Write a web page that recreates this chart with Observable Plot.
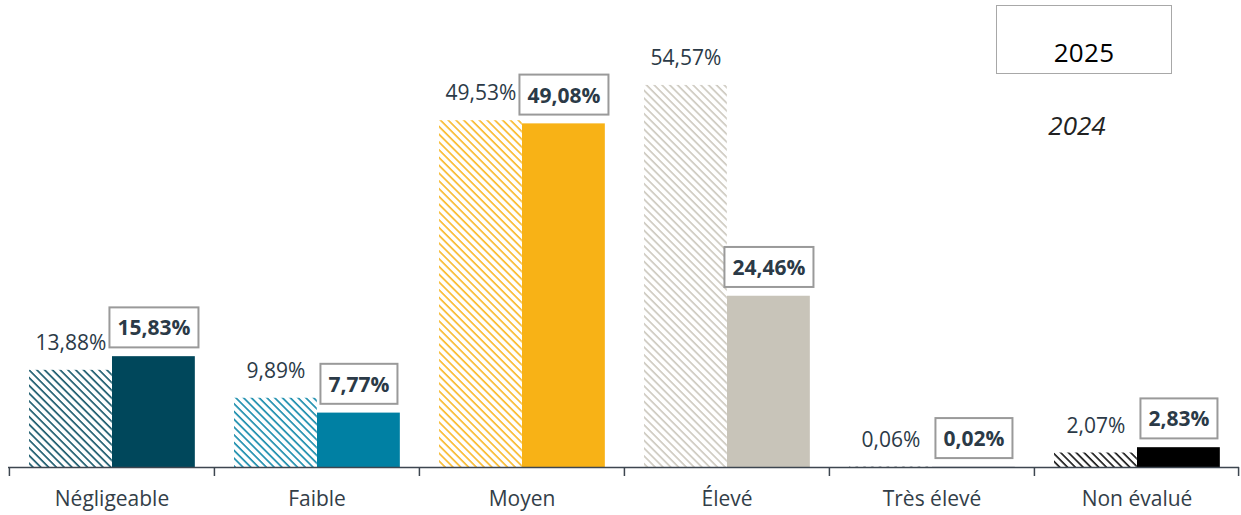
<!DOCTYPE html>
<html>
<head>
<meta charset="utf-8">
<script src="https://cdn.jsdelivr.net/npm/d3@7"></script>
<script src="https://cdn.jsdelivr.net/npm/@observablehq/plot@0.6"></script>
<style>
  html, body { margin: 0; padding: 0; background: #fff; }
  #wrap { position: relative; width: 1241px; height: 515px; font-family: "Open Sans", sans-serif; }
  #leg2025 { position: absolute; left: 996px; top: 5px; width: 174px; height: 67px; border: 1.5px solid #a8a8a8; box-sizing: content-box; }
  #leg2025 span { position: absolute; left: 0; right: 0; top: 31px; text-align: center; font-size: 26px; font-weight: 500; color: #000; line-height: 30px; letter-spacing: 0.3px; }
  #leg2024 { position: absolute; left: 1000px; top: 110px; width: 154px; text-align: center; font-size: 26px; font-style: italic; color: #222; line-height: 30px; }
</style>
</head>
<body>
<div id="wrap">
  <div id="chart"></div>
  <div id="leg2025"><span>2025</span></div>
  <div id="leg2024">2024</div>
</div>
<script>
const categories = ["Négligeable", "Faible", "Moyen", "Élevé", "Très élevé", "Non évalué"];
const values2024 = [13.88, 9.89, 49.53, 54.57, 0.06, 2.07];
const values2025 = [15.83, 7.77, 49.08, 24.46, 0.02, 2.83];
const colors = ["#00475B", "#0080A3", "#F8B216", "#C8C4B9", "#3d4650", "#000000"];

const W = 1241, H = 515, mL = 8, mR = 2;
const bw = (W - mL - mR) / categories.length;
const pad = 20, barW = 83;

const rows2024 = categories.map((c, i) => ({cat: c, v: values2024[i], fill: `url(#hatch${i})`}));
const rows2025 = categories.map((c, i) => ({cat: c, v: values2025[i], fill: colors[i]}));
const fmt = v => v.toFixed(2).replace(".", ",") + "%";
const textColor = "#2b3a47";

const plot = Plot.plot({
  width: W, height: H,
  marginLeft: mL, marginRight: mR, marginTop: 0, marginBottom: 48,
  style: {fontFamily: "'Open Sans', sans-serif", background: "#fff"},
  x: {domain: categories, padding: 0, axis: null},
  y: {domain: [0, 66.7], axis: null},
  color: {type: "identity"},
  marks: [
    Plot.barY(rows2024, {x: "cat", y: "v", fill: "fill", insetLeft: pad, insetRight: bw - pad - barW}),
    Plot.barY(rows2025, {x: "cat", y: "v", fill: "fill", insetLeft: pad + barW, insetRight: bw - pad - 2 * barW}),
    Plot.ruleY([0], {stroke: "#3d4650", strokeWidth: 1.5}),
    Plot.ruleX(categories, {x: d => d, y1: 0, y2: 0, insetBottom: -9, dx: -bw / 2, stroke: "#3d4650", strokeWidth: 1.5}),
    Plot.ruleX(categories.slice(-1), {x: d => d, y1: 0, y2: 0, insetBottom: -9, dx: bw / 2 - 1, stroke: "#3d4650", strokeWidth: 1.5}),
    Plot.text(categories, {x: d => d, y: 0, dy: 32, text: d => d, fontSize: 21, fill: "#333e48", lineAnchor: "middle", letterSpacing: 0.8}),
    Plot.text(rows2024, {x: "cat", y: "v", text: d => fmt(d.v), dx: pad + barW / 2 - bw / 2, dy: -27, fontSize: 21, fill: textColor, lineAnchor: "middle", letterSpacing: 0.4}),
    Plot.text(rows2025, {x: "cat", y: "v", text: d => fmt(d.v), dx: pad + barW * 1.5 - bw / 2, dy: -28, fontSize: 21, fontWeight: "bold", fill: textColor, lineAnchor: "middle", letterSpacing: 0.3})
  ]
});

document.getElementById("chart").appendChild(plot);

// hatch patterns
const svg = d3.select(plot);
const defs = svg.insert("defs", ":first-child");
colors.forEach((c, i) => {
  const p = defs.append("pattern")
    .attr("id", `hatch${i}`)
    .attr("patternUnits", "userSpaceOnUse")
    .attr("width", 5.5).attr("height", 5.5)
    .attr("patternTransform", "rotate(-45)");
  p.append("line").attr("x1", 1).attr("y1", 0).attr("x2", 1).attr("y2", 5.5)
    .attr("stroke", c).attr("stroke-width", 1.5);
});

// boxes around 2025 labels
svg.selectAll('g[font-weight="bold"] text').each(function() {
  const b = this.getBBox();
  const cy = b.y + b.height / 2;
  d3.select(this.parentNode).insert("rect", () => this)
    .attr("transform", this.getAttribute("transform"))
    .attr("x", b.x - 8).attr("y", cy - 20)
    .attr("width", b.width + 16).attr("height", 40)
    .attr("fill", "#fff").attr("stroke", "#9a9a9a").attr("stroke-width", 2);
});
</script>
</body>
</html>
